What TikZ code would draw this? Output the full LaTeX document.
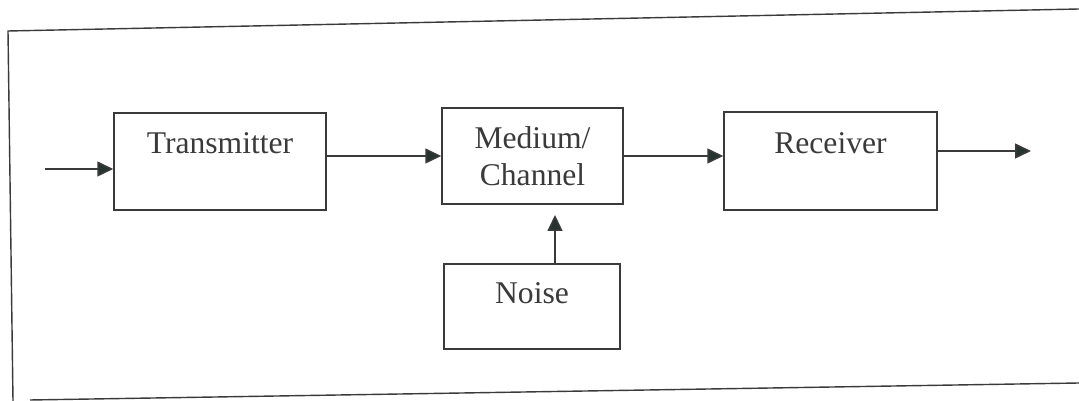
\documentclass[tikz,border=0pt]{standalone}
\usepackage{fontspec}
\setmainfont{Liberation Serif}
\usetikzlibrary{arrows.meta}
\definecolor{inkgray}{HTML}{3A3A3A}
\definecolor{tipgray}{HTML}{263430}
\tikzset{
	block/.style={draw=inkgray, line width=0.85pt, text=inkgray, align=center,
		font=\fontsize{18}{21}\selectfont},
	sig/.style={draw=inkgray, line width=0.85pt,
		-{Triangle[length=0.32cm, width=0.3cm, fill=tipgray]}},
	frameline/.style={draw=inkgray, line width=0.8pt}
}
\begin{document}
\begin{tikzpicture}[x=0.02cm, y=-0.02cm]
		\useasboundingbox (0, 0) rectangle (1079, 401);
		\draw[frameline] (1079, 9) -- (8, 31) -- (13, 401);
		\draw[frameline] (30, 400) -- (1079, 383);
		\node[block, minimum width=4.24cm, minimum height=1.94cm, text height=0.45cm, text depth=0.75cm] (tx) at (220, 161.5) {Transmitter};
		\node[block, minimum width=3.62cm, minimum height=1.92cm] (med) at (532.5, 156) {Medium/\\Channel};
		\node[block, minimum width=4.26cm, minimum height=1.96cm, text height=0.45cm, text depth=0.75cm] (rx) at (830.5, 161) {Receiver};
		\node[block, minimum width=3.52cm, minimum height=1.7cm, text height=0.45cm, text depth=0.55cm] (noise) at (532, 306.5) {Noise};
		\coordinate (in) at (45, 169);
		\coordinate (out) at (1031, 151);
		\coordinate (nz) at (555, 215);
		\draw[sig] (in) -- (in -| tx.west);
		\draw[sig] (tx.east |- med.west) -- (med.west);
		\draw[sig] (med.east) -- (med.east -| rx.west);
		\draw[sig] (rx.east |- out) -- (out);
		\draw[sig] (noise.north -| nz) -- (nz);
	\end{tikzpicture}
\end{document}
